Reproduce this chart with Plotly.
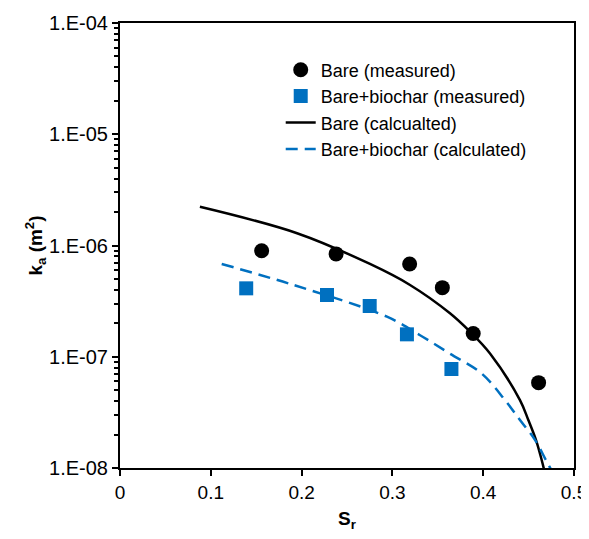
import plotly.graph_objects as go

# Measured data
bare_sr = [0.156, 0.238, 0.319, 0.355, 0.389, 0.461]
bare_ka = [8.97e-7, 8.4e-7, 6.82e-7, 4.18e-7, 1.62e-7, 5.85e-8]
bio_sr = [0.139, 0.228, 0.275, 0.316, 0.365]
bio_ka = [4.12e-7, 3.59e-7, 2.86e-7, 1.59e-7, 7.76e-8]

# Calculated curves
bare_calc_sr = [0.088, 0.195, 0.2753, 0.3194, 0.3634, 0.3855, 0.4075, 0.4405, 0.4497, 0.4581, 0.4644, 0.467]
bare_calc_ka = [2.23e-6, 1.29e-6, 6.82e-7, 4.42e-7, 2.46e-7, 1.68e-7, 1.07e-7, 4.08e-8, 2.70e-8, 1.79e-8, 1.18e-8, 9.7e-9]
bio_calc_sr = [0.112, 0.191, 0.294, 0.330, 0.363, 0.398, 0.424, 0.4405, 0.457, 0.469, 0.475]
bio_calc_ka = [6.82e-7, 4.42e-7, 2.29e-7, 1.57e-7, 1.07e-7, 7.1e-8, 4.08e-8, 2.70e-8, 1.79e-8, 1.18e-8, 9.6e-9]

ytickvals = [1e-8, 1e-7, 1e-6, 1e-5, 1e-4]
yticktext = ["1.E-08", "1.E-07", "1.E-06", "1.E-05", "1.E-04"]

BLUE = "#0070C0"
FONT = "Liberation Sans, Arial, sans-serif"

fig = go.Figure()
fig.add_trace(go.Scatter(x=bare_sr, y=bare_ka, mode="markers", name="Bare (measured)",
                         marker=dict(symbol="circle", size=15, color="black")))
fig.add_trace(go.Scatter(x=bio_sr, y=bio_ka, mode="markers", name="Bare+biochar (measured)",
                         marker=dict(symbol="square", size=14, color=BLUE)))
fig.add_trace(go.Scatter(x=bare_calc_sr, y=bare_calc_ka, mode="lines", name="Bare (calcualted)",
                         line=dict(color="black", width=2.5, shape="spline", smoothing=1.0)))
fig.add_trace(go.Scatter(x=bio_calc_sr, y=bio_calc_ka, mode="lines", name="Bare+biochar (calculated)",
                         line=dict(color=BLUE, width=2.5, dash="12px,7px", shape="spline", smoothing=1.0)))

fig.update_layout(
    width=581, height=531,
    margin=dict(l=112, r=15, t=15, b=71, autoexpand=False),
    plot_bgcolor="white", paper_bgcolor="white",
    font=dict(family=FONT, size=18, color="black"),
    showlegend=True,
    legend=dict(x=0.354, y=0.936, xanchor="left", yanchor="top",
                bgcolor="rgba(0,0,0,0)", font=dict(size=18), tracegroupgap=0),
)
fig.update_xaxes(range=[0, 0.5], dtick=0.1, showgrid=False, zeroline=False,
                 showline=True, linecolor="black", linewidth=2, mirror=True,
                 ticks="outside", ticklen=6, tickwidth=2, tickcolor="black",
                 tickfont=dict(size=19),
                 title=dict(text="<b>S<sub>r</sub></b>", font=dict(size=19), standoff=10))
fig.update_yaxes(type="log", range=[-8, -4], tickvals=ytickvals, ticktext=yticktext,
                 showgrid=False, zeroline=False,
                 showline=True, linecolor="black", linewidth=2, mirror=True,
                 ticks="outside", ticklen=6, tickwidth=2, tickcolor="black",
                 tickfont=dict(size=20),
                 minor=dict(ticks="outside", ticklen=4, tickwidth=1.5, tickcolor="black",
                            dtick="D1", showgrid=False),
                 title=dict(text="<b>k<sub>a</sub> (m<sup>2</sup>)</b>", font=dict(size=19), standoff=1))

fig.write_html("out.html")
